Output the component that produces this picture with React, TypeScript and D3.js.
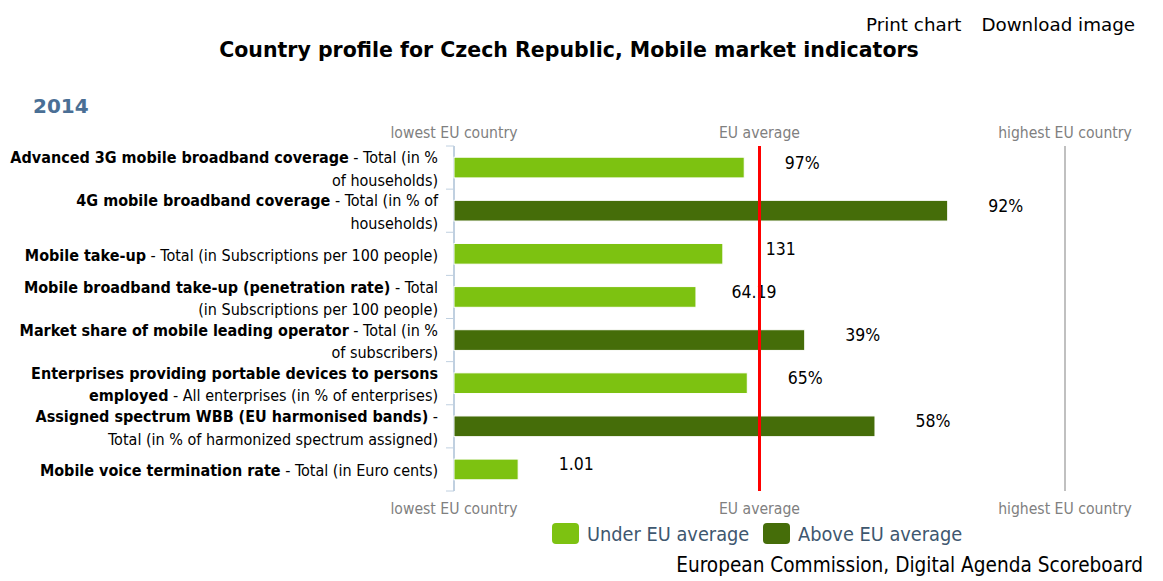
import React from "react";
import * as d3 from "d3";

const categoryLines: string[][] = [
  ["**Advanced 3G mobile broadband coverage** - Total (in %", "of households)"],
  ["**4G mobile broadband coverage** - Total (in % of", "households)"],
  ["**Mobile take-up** - Total (in Subscriptions per 100 people)"],
  ["**Mobile broadband take-up (penetration rate)** - Total", "(in Subscriptions per 100 people)"],
  ["**Market share of mobile leading operator** - Total (in %", "of subscribers)"],
  ["**Enterprises providing portable devices to persons**", "**employed** - All enterprises (in % of enterprises)"],
  ["**Assigned spectrum WBB (EU harmonised bands)** -", "Total (in % of harmonized spectrum assigned)"],
  ["**Mobile voice termination rate** - Total (in Euro cents)"],
];
// relative position between lowest EU country (0) and highest EU country (1); EU average = 0.5
const relativeValues = [0.475, 0.808, 0.44, 0.396, 0.574, 0.48, 0.689, 0.105];
const valueLabels = ["97%", "92%", "131", "64.19", "39%", "65%", "58%", "1.01"];
const axisLabels = ["lowest EU country", "EU average", "highest EU country"];
const axisPositions = [0, 0.5, 1];
const legendLabels = ["Under EU average", "Above EU average"];
const year = "2014";

const W = 1163, H = 581;
const FONT = "'DejaVu Sans Condensed', 'DejaVu Sans', sans-serif";
const WIDE = "'DejaVu Sans', sans-serif";
const LIGHT = "#7DC211";
const DARK = "#456D09";

function parse(line: string) {
  const parts = line.split("**");
  return parts.map((t, i) => ({ t, b: i % 2 === 1 })).filter((p) => p.t.length > 0);
}

export default function App() {
  const x = d3.scaleLinear().domain([0, 1]).range([454, 1065]);
  const y = d3.scaleBand<number>().domain(d3.range(categoryLines.length)).range([146, 491]).paddingInner(0.52).paddingOuter(0.26);
  const band = d3.scaleBand<number>().domain(d3.range(categoryLines.length)).range([146, 491]);
  return (
    <svg width={W} height={H} style={{ display: "block", marginTop: -8, marginLeft: -8 }} fontFamily={FONT}>
      <text x={1135} y={31} textAnchor="end" fontSize={18.3} fill="#000" fontFamily={WIDE}>
        <tspan>Print chart</tspan>
        <tspan dx={20}>Download image</tspan>
      </text>
      <text x={569} y={57} textAnchor="middle" fontSize={20.5} fontWeight="bold" fill="#000" fontFamily={WIDE}>
        Country profile for Czech Republic, Mobile market indicators
      </text>
      <text x={33} y={113} fontSize={20} fontWeight="bold" fill="#4A6F95" fontFamily={WIDE}>{year}</text>

      {axisLabels.map((l, i) => (
        <g key={l}>
          <text x={x(axisPositions[i])} y={138} textAnchor="middle" fontSize={15.6} fill="#808080">{l}</text>
          <text x={x(axisPositions[i])} y={514} textAnchor="middle" fontSize={15.6} fill="#808080">{l}</text>
        </g>
      ))}

      <line x1={x(1)} x2={x(1)} y1={146} y2={491} stroke="#C0C0C0" strokeWidth={2} />
      <line x1={454} x2={454} y1={146} y2={491} stroke="#C0D0E0" strokeWidth={2} />
      {d3.range(categoryLines.length + 1).map((i) => {
        const yy = i < categoryLines.length ? band(i)! : 491;
        return <line key={i} x1={446} x2={454} y1={yy} y2={yy} stroke="#C0D0E0" strokeWidth={1} />;
      })}

      {relativeValues.map((v, i) => (
        <g key={i}>
          <rect x={x(0)} y={y(i)!} width={x(v) - x(0)} height={y.bandwidth()} fill={v > 0.5 ? DARK : LIGHT} stroke="#fff" strokeWidth={1} />
          <text x={x(v) + 58} y={y(i)! + y.bandwidth() / 2 + 1} textAnchor="middle" fontSize={17.5} fill="#000">{valueLabels[i]}</text>
        </g>
      ))}

      <line x1={x(0.5)} x2={x(0.5)} y1={146} y2={491} stroke="#FF0000" strokeWidth={3} />

      {categoryLines.map((lines, i) => {
        const cy = band(i)! + band.bandwidth() / 2;
        const lh = 22.5;
        const y0 = cy - ((lines.length - 1) * lh) / 2 + 7;
        return (
          <text key={i} textAnchor="end" fontSize={16} fill="#000">
            {lines.map((ln, j) => (
              <tspan key={j} x={438} y={y0 + j * lh}>
                {parse(ln).map((p, k) => (
                  <tspan key={k} fontWeight={p.b ? "bold" : "normal"}>{p.t}</tspan>
                ))}
              </tspan>
            ))}
          </text>
        );
      })}

      {legendLabels.map((l, i) => {
        const lx = i === 0 ? 552 : 763;
        return (
          <g key={l}>
            <rect x={lx} y={523} width={27} height={21} rx={4} fill={i === 0 ? LIGHT : DARK} />
            <text x={lx + 35} y={541} fontSize={19.8} fill="#3E576F">{l}</text>
          </g>
        );
      })}

      <text x={1143} y={572} textAnchor="end" fontSize={20.6} fill="#000">European Commission, Digital Agenda Scoreboard</text>
    </svg>
  );
}
